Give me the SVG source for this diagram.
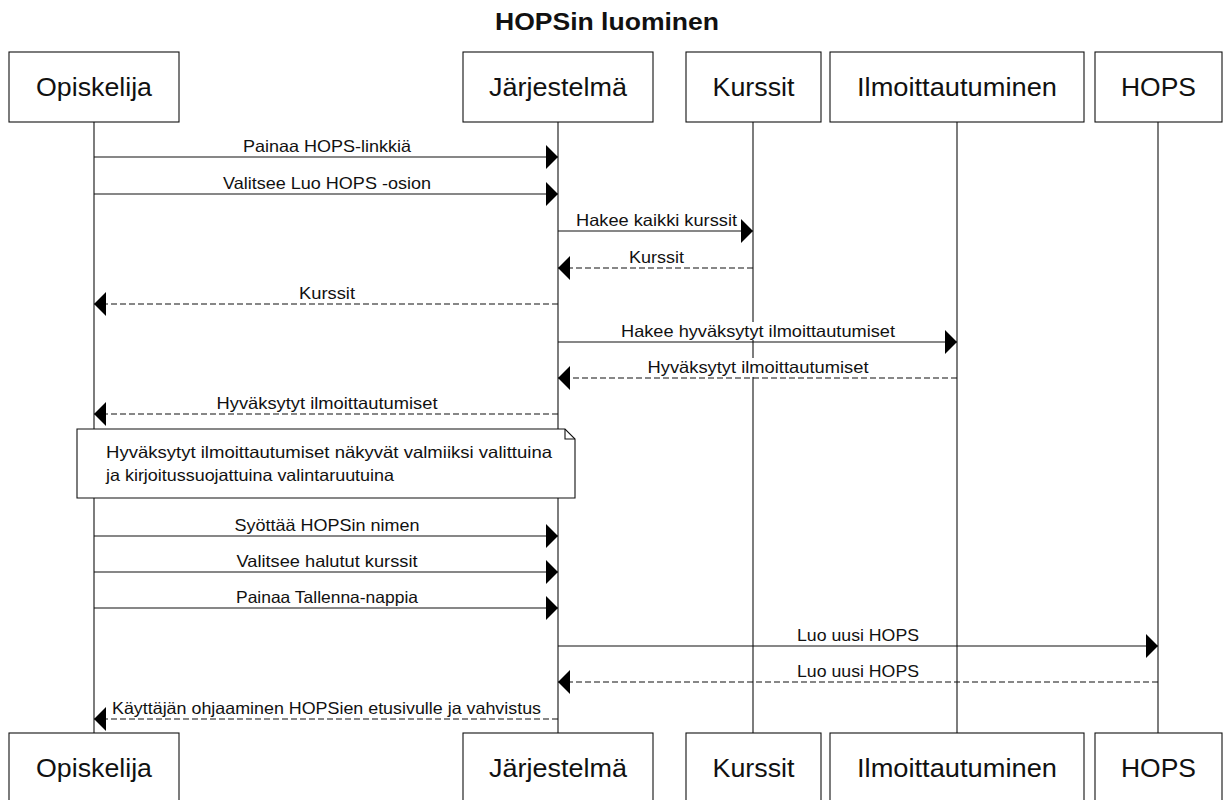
<svg xmlns="http://www.w3.org/2000/svg" width="1232" height="800" viewBox="0 0 1232 800">
<defs>
<marker id="ah" markerUnits="userSpaceOnUse" markerWidth="12" markerHeight="24" refX="12" refY="12" orient="auto" viewBox="0 0 12 24">
<path d="M0,0 L12,12 L0,24 Z" fill="#000"/>
</marker>
<style>
.box{fill:#fff;stroke:#111;stroke-width:1.1}
.life{stroke:#111;stroke-width:1.1}
.pt{font-family:"Liberation Sans",Arial,sans-serif;font-size:25px;fill:#111;text-anchor:middle}
.title{font-family:"Liberation Sans",Arial,sans-serif;font-size:24px;font-weight:bold;fill:#111;text-anchor:middle}
.msg{font-family:"Liberation Sans",Arial,sans-serif;font-size:16.5px;fill:#111;text-anchor:middle}
.note{font-family:"Liberation Sans",Arial,sans-serif;font-size:16.5px;fill:#111}
.sync{stroke:#111;stroke-width:1.1;fill:none;marker-end:url(#ah)}
.ret{stroke:#111;stroke-width:1.1;fill:none;stroke-dasharray:6,3;marker-end:url(#ah)}
.bg{fill:#fff}
</style>
</defs>
<rect width="1232" height="800" fill="#fff"/>
<text class="title" x="607" y="30" textLength="224" lengthAdjust="spacingAndGlyphs">HOPSin luominen</text>

<g id="lifelines">
<line class="life" x1="94" y1="122" x2="94" y2="733"/>
<line class="life" x1="558" y1="122" x2="558" y2="733"/>
<line class="life" x1="753" y1="122" x2="753" y2="733"/>
<line class="life" x1="957" y1="122" x2="957" y2="733"/>
<line class="life" x1="1158" y1="122" x2="1158" y2="733"/>
</g>

<g id="opiskelija">
<rect class="box" x="9" y="52" width="170" height="70"/>
<text class="pt" x="94" y="96" textLength="116" lengthAdjust="spacingAndGlyphs">Opiskelija</text>
<rect class="box" x="9" y="733" width="170" height="70"/>
<text class="pt" x="94" y="777" textLength="116" lengthAdjust="spacingAndGlyphs">Opiskelija</text>
</g>
<g id="jarjestelma">
<rect class="box" x="463" y="52" width="190" height="70"/>
<text class="pt" x="558" y="96" textLength="138" lengthAdjust="spacingAndGlyphs">Järjestelmä</text>
<rect class="box" x="463" y="733" width="190" height="70"/>
<text class="pt" x="558" y="777" textLength="138" lengthAdjust="spacingAndGlyphs">Järjestelmä</text>
</g>
<g id="kurssit">
<rect class="box" x="686" y="52" width="135" height="70"/>
<text class="pt" x="753.5" y="96" textLength="82" lengthAdjust="spacingAndGlyphs">Kurssit</text>
<rect class="box" x="686" y="733" width="135" height="70"/>
<text class="pt" x="753.5" y="777" textLength="82" lengthAdjust="spacingAndGlyphs">Kurssit</text>
</g>
<g id="ilmoittautuminen">
<rect class="box" x="830" y="52" width="254" height="70"/>
<text class="pt" x="957" y="96" textLength="200" lengthAdjust="spacingAndGlyphs">Ilmoittautuminen</text>
<rect class="box" x="830" y="733" width="254" height="70"/>
<text class="pt" x="957" y="777" textLength="200" lengthAdjust="spacingAndGlyphs">Ilmoittautuminen</text>
</g>
<g id="hops">
<rect class="box" x="1095" y="52" width="127" height="70"/>
<text class="pt" x="1158.5" y="96" textLength="75" lengthAdjust="spacingAndGlyphs">HOPS</text>
<rect class="box" x="1095" y="733" width="127" height="70"/>
<text class="pt" x="1158.5" y="777" textLength="75" lengthAdjust="spacingAndGlyphs">HOPS</text>
</g>

<g id="connectors">
<text class="msg" x="327" y="152" textLength="168" lengthAdjust="spacingAndGlyphs">Painaa HOPS-linkkiä</text>
<line class="sync" x1="94" y1="157" x2="558" y2="157"/>

<text class="msg" x="327" y="189" textLength="208" lengthAdjust="spacingAndGlyphs">Valitsee Luo HOPS -osion</text>
<line class="sync" x1="94" y1="194" x2="558" y2="194"/>

<text class="msg" x="656.5" y="226" textLength="161" lengthAdjust="spacingAndGlyphs">Hakee kaikki kurssit</text>
<line class="sync" x1="558" y1="231" x2="753" y2="231"/>

<text class="msg" x="656.5" y="263" textLength="55" lengthAdjust="spacingAndGlyphs">Kurssit</text>
<line class="ret" x1="753" y1="268" x2="558" y2="268"/>

<text class="msg" x="327" y="299" textLength="56" lengthAdjust="spacingAndGlyphs">Kurssit</text>
<line class="ret" x1="558" y1="304" x2="94" y2="304"/>

<rect class="bg" x="621" y="322" width="274" height="18"/>
<text class="msg" x="758" y="337" textLength="274" lengthAdjust="spacingAndGlyphs">Hakee hyväksytyt ilmoittautumiset</text>
<line class="sync" x1="558" y1="342" x2="957" y2="342"/>

<rect class="bg" x="648" y="358" width="221" height="19"/>
<text class="msg" x="758" y="373" textLength="221" lengthAdjust="spacingAndGlyphs">Hyväksytyt ilmoittautumiset</text>
<line class="ret" x1="957" y1="378" x2="558" y2="378"/>

<text class="msg" x="327" y="409" textLength="221" lengthAdjust="spacingAndGlyphs">Hyväksytyt ilmoittautumiset</text>
<line class="ret" x1="558" y1="414" x2="94" y2="414"/>

<text class="msg" x="327" y="531" textLength="185" lengthAdjust="spacingAndGlyphs">Syöttää HOPSin nimen</text>
<line class="sync" x1="94" y1="536" x2="558" y2="536"/>

<text class="msg" x="327" y="567" textLength="181" lengthAdjust="spacingAndGlyphs">Valitsee halutut kurssit</text>
<line class="sync" x1="94" y1="572" x2="558" y2="572"/>

<text class="msg" x="327" y="603" textLength="182" lengthAdjust="spacingAndGlyphs">Painaa Tallenna-nappia</text>
<line class="sync" x1="94" y1="608" x2="558" y2="608"/>

<text class="msg" x="858" y="641" textLength="122" lengthAdjust="spacingAndGlyphs">Luo uusi HOPS</text>
<line class="sync" x1="558" y1="646" x2="1158" y2="646"/>

<text class="msg" x="858" y="677" textLength="122" lengthAdjust="spacingAndGlyphs">Luo uusi HOPS</text>
<line class="ret" x1="1158" y1="682" x2="558" y2="682"/>

<text class="msg" x="326.5" y="714" textLength="429" lengthAdjust="spacingAndGlyphs">Käyttäjän ohjaaminen HOPSien etusivulle ja vahvistus</text>
<line class="ret" x1="558" y1="719" x2="94" y2="719"/>
</g>

<g id="note">
<path class="box" d="M77,429 H565 L575,439 V498 H77 Z"/>
<path d="M565,429 V439 H575" fill="none" stroke="#111" stroke-width="1.1"/>
<text class="note" x="106" y="458" textLength="446" lengthAdjust="spacingAndGlyphs">Hyväksytyt ilmoittautumiset näkyvät valmiiksi valittuina</text>
<text class="note" x="106" y="481" textLength="288" lengthAdjust="spacingAndGlyphs">ja kirjoitussuojattuina valintaruutuina</text>
</g>
</svg>
